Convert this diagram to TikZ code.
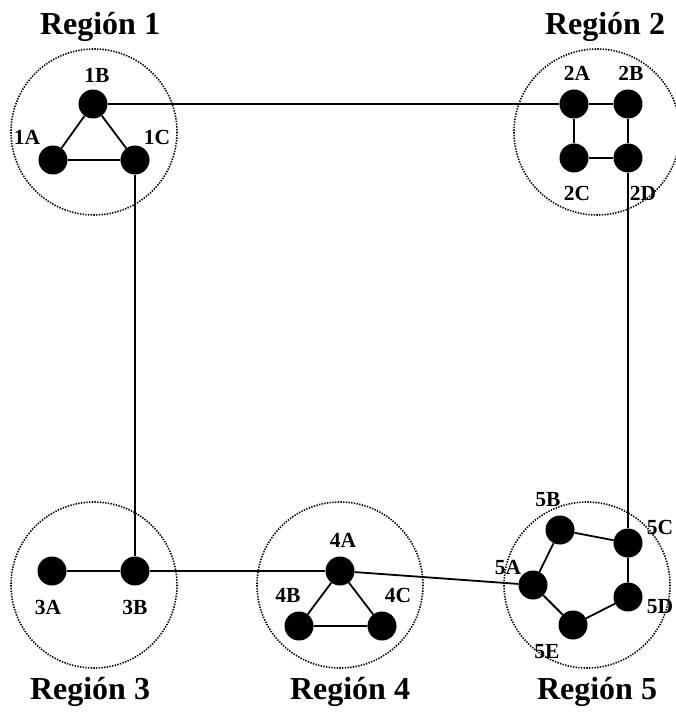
\documentclass[tikz,border=0pt]{standalone}
\usepackage{fontspec}
\setmainfont{Liberation Serif}
\begin{document}
\begin{tikzpicture}[x=1pt,y=-1pt,
  host/.style={circle,fill=black,minimum size=29pt,inner sep=0pt},
  link/.style={line width=1.8pt},
  zone/.style={line width=1.6pt,dash pattern=on 1.4pt off 1.3pt},
  tag/.style={font=\bfseries\fontsize{21.5}{21.5}\selectfont,inner sep=0pt},
  title/.style={font=\bfseries\fontsize{32}{32}\selectfont,inner sep=0pt}]
\useasboundingbox (0,0) rectangle (675,714);

% region outlines
\draw[zone] (94,132) circle[radius=83];
\draw[zone] (597,132) circle[radius=83];
\draw[zone] (94,585) circle[radius=83];
\draw[zone] (340,585) circle[radius=83];
\draw[zone] (587,585) circle[radius=83];

% hosts
\node[host] (1A) at (53,160) {};
\node[host] (1B) at (93,104) {};
\node[host] (1C) at (135,160) {};
\node[host] (2A) at (574,104) {};
\node[host] (2B) at (628,104) {};
\node[host] (2C) at (574,158) {};
\node[host] (2D) at (628,158) {};
\node[host] (3A) at (52,571) {};
\node[host] (3B) at (135,571) {};
\node[host] (4A) at (340,571) {};
\node[host] (4B) at (299,626) {};
\node[host] (4C) at (382,626) {};
\node[host] (5A) at (533,585) {};
\node[host] (5B) at (560,530) {};
\node[host] (5C) at (628,543) {};
\node[host] (5D) at (628,597) {};
\node[host] (5E) at (573,625) {};

% links inside each region
\draw[link] (1A) -- (1B) -- (1C) -- (1A);
\draw[link] (2A) -- (2B) -- (2D) -- (2C) -- (2A);
\draw[link] (3A) -- (3B);
\draw[link] (4A) -- (4B) -- (4C) -- (4A);
\draw[link] (5A) -- (5B) -- (5C) -- (5D) -- (5E) -- (5A);

% links between regions
\draw[link] (1B) -- (2A);
\draw[link] (1C) -- (3B);
\draw[link] (2D) -- (5C);
\draw[link] (3B) -- (4A);
\draw[link] (4A) -- (5A);

% host labels
\node[tag] (l1A) at (27,137) {1A};
\node[tag] (l1B) at (97,75) {1B};
\node[tag] (l1C) at (157,137) {1C};
\node[tag] (l2A) at (577,73) {2A};
\node[tag] (l2B) at (631,73) {2B};
\node[tag] (l2C) at (577,193) {2C};
\node[tag] (l2D) at (643,193) {2D};
\node[tag] (l3A) at (48,607) {3A};
\node[tag] (l3B) at (135,607) {3B};
\node[tag] (l4A) at (343,540) {4A};
\node[tag] (l4B) at (288,595) {4B};
\node[tag] (l4C) at (398,595) {4C};
\node[tag] (l5A) at (508,568) {5A};
\node[tag] (l5B) at (548,500) {5B};
\node[tag] (l5C) at (660,527) {5C};
\node[tag] (l5D) at (660,607) {5D};
\node[tag] (l5E) at (547,652) {5E};

% region titles
\node[title] (t1) at (100,27) {Región 1};
\node[title] (t2) at (605,27) {Región 2};
\node[title] (t3) at (90,692) {Región 3};
\node[title] (t4) at (350,692) {Región 4};
\node[title] (t5) at (597,692) {Región 5};
\end{tikzpicture}
\end{document}
